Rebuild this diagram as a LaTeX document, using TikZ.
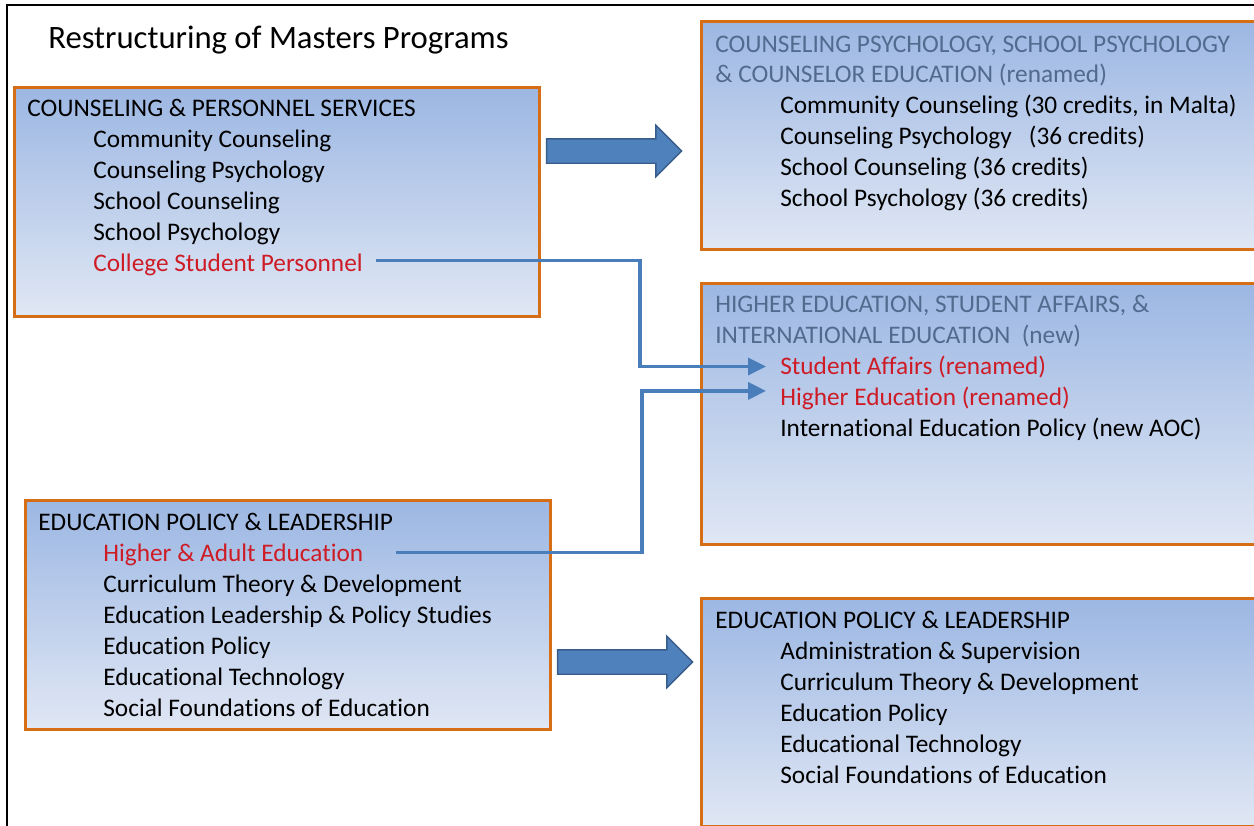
\documentclass[tikz,border=0pt]{standalone}
\usepackage{fontspec}
\setmainfont{Carlito}[Ligatures=NoCommon]
\usepackage{xcolor}
\usepackage{tikz}
\usetikzlibrary{arrows.meta,positioning,shapes.arrows}
\definecolor{boxtop}{RGB}{156,183,227}
\definecolor{boxbot}{RGB}{224,231,244}
\definecolor{boxline}{RGB}{214,110,22}
\definecolor{headblue}{RGB}{82,106,142}
\definecolor{renamed}{RGB}{206,28,38}
\definecolor{linkblue}{RGB}{74,126,187}
\definecolor{arrfill}{RGB}{79,129,189}
\definecolor{arrline}{RGB}{56,93,138}

\begin{document}
\begin{tikzpicture}[
  x=0.02cm, y=-0.02cm,
  box/.style={draw=boxline, line width=1.7pt, top color=boxtop, bottom color=boxbot,
              anchor=north west, inner sep=0pt},
  head/.style={anchor=base west, inner sep=0pt, font=\fontsize{14.4}{17}\selectfont},
  item/.style={anchor=base west, inner sep=0pt, font=\fontsize{14.4}{17}\selectfont},
  blockarrow/.style={single arrow, draw=arrline, fill=arrfill, line width=0.8pt,
                     inner xsep=0pt, inner ysep=0.23cm, minimum height=2.7cm,
                     single arrow head extend=0.27cm},
  link/.style={draw=linkblue, line width=2pt},
  linkarrow/.style={link, -{Triangle[length=0.36cm, width=0.34cm]}}
]
\useasboundingbox (0,0) rectangle (1254,825);

% frame
\draw[line width=1.4pt] (7,830) -- (7,5) -- (1260,5);

% title
\node[anchor=base west, inner sep=0pt, font=\fontsize{18.6}{22}\selectfont] (title)
  at (48,48) {Restructuring of Masters Programs};

% Boxes
\node[box, minimum width=10.5cm, minimum height=4.58cm] (cps) at (13,86) {};
\node[box, minimum width=11.3cm, minimum height=4.56cm] (cpse) at (700,20) {};
\node[box, minimum width=11.3cm, minimum height=5.22cm] (hesa) at (700,282) {};
\node[box, minimum width=10.5cm, minimum height=4.58cm] (epl) at (24,499) {};
\node[box, minimum width=11.3cm, minimum height=4.56cm] (eplnew) at (700,597) {};

% Counseling & Personnel Services (old)
\node[head] (cpsT) at (27,116) {COUNSELING \& PERSONNEL SERVICES};
\foreach \t [count=\i] in {Community Counseling, Counseling Psychology,
                           School Counseling, School Psychology}
  \node[item] (cps\i) at (93,116+31*\i) {\t};
\node[item, text=renamed] (csp) at (93,271) {College Student Personnel};

% Counseling Psychology ... (renamed)
\node[head, text=headblue] (cpseT) at (715,52) {COUNSELING PSYCHOLOGY, SCHOOL PSYCHOLOGY};
\node[head, text=headblue] (cpseT2) at (715,82) {\& COUNSELOR EDUCATION (renamed)};
\foreach \t [count=\i] in {{Community Counseling (30 credits, in Malta)},
                           {Counseling Psychology\ \ \ (36 credits)},
                           {School Counseling (36 credits)},
                           {School Psychology (36 credits)}}
  \node[item] (cpse\i) at (780,82+31*\i) {\t};

% Higher Education ... (new)
\node[head, text=headblue] (hesaT) at (715,312) {HIGHER EDUCATION, STUDENT AFFAIRS, \&};
\node[head, text=headblue] (hesaT2) at (715,343) {INTERNATIONAL EDUCATION\ \ (new)};
\node[item, text=renamed] (sa) at (780,374) {Student Affairs (renamed)};
\node[item, text=renamed] (he) at (780,405) {Higher Education (renamed)};
\node[item] (iep) at (780,436) {International Education Policy (new AOC)};

% Education Policy & Leadership (old)
\node[head] (eplT) at (38,530) {EDUCATION POLICY \& LEADERSHIP};
\node[item, text=renamed] (hae) at (103,561) {Higher \& Adult Education};
\foreach \t [count=\i] in {Curriculum Theory \& Development,
                           Education Leadership \& Policy Studies,
                           Education Policy, Educational Technology,
                           Social Foundations of Education}
  \node[item] (epl\i) at (103,561+31*\i) {\t};

% Education Policy & Leadership (new)
\node[head] (eplnewT) at (715,628) {EDUCATION POLICY \& LEADERSHIP};
\foreach \t [count=\i] in {Administration \& Supervision,
                           Curriculum Theory \& Development,
                           Education Policy, Educational Technology,
                           Social Foundations of Education}
  \node[item] (eplnew\i) at (780,628+31*\i) {\t};

% Block arrows
\node[blockarrow] (arrTop) at (608,151) {};
\node[blockarrow] (arrBot) at (619,662) {};

% Moves
\coordinate (jogA) at (640,0);
\coordinate (jogB) at (642,0);
\coordinate (cspout) at ([shift={(13,-4)}]csp.east);
\coordinate (saIn) at ([shift={(-14,0)}]sa.west);
\coordinate (haeout) at ([shift={(32,-2)}]hae.east);
\coordinate (heIn) at ([shift={(-14,-7)}]he.west);
\draw[linkarrow] (cspout) -- (cspout -| jogA) |- (saIn);
\draw[linkarrow] (haeout) -- (haeout -| jogB) |- (heIn);

\end{tikzpicture}
\end{document}
